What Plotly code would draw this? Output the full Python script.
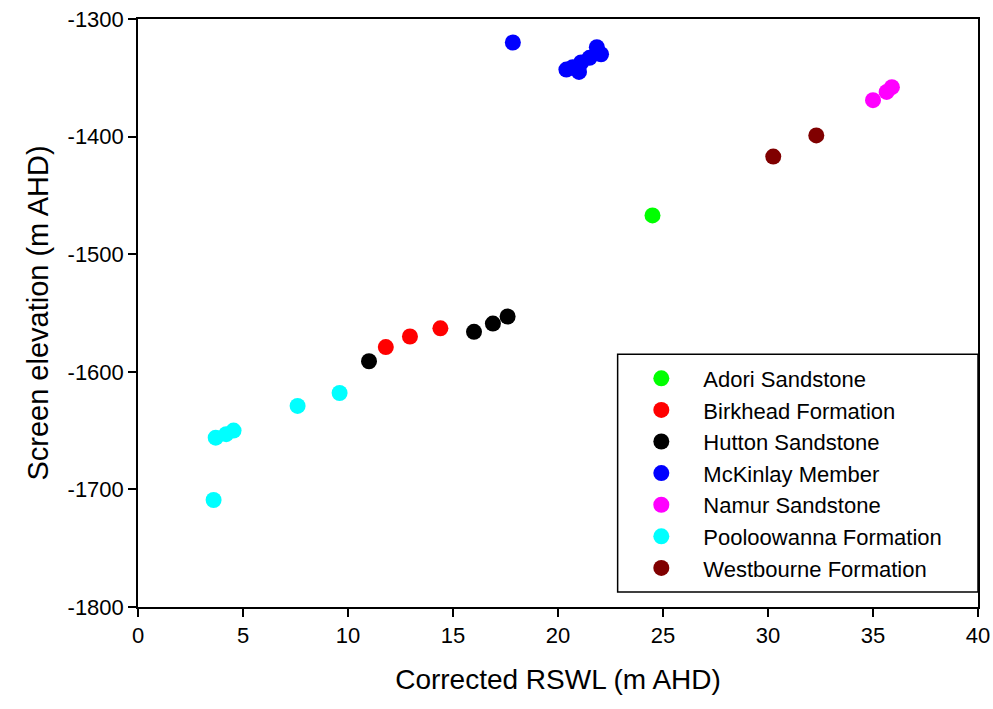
import plotly.graph_objects as go

# Data
adori_x = [24.5]
adori_y = [-1467]
birkhead_x = [11.8, 12.95, 14.4]
birkhead_y = [-1579, -1570, -1563]
hutton_x = [11.0, 16.0, 16.9, 17.6]
hutton_y = [-1591, -1566, -1559, -1553]
mckinlay_x = [17.85, 20.4, 20.7, 21.0, 21.1, 21.5, 21.85, 22.05]
mckinlay_y = [-1320, -1343, -1341, -1345, -1337, -1333, -1324, -1330]
namur_x = [35.0, 35.65, 35.9]
namur_y = [-1369, -1362, -1358]
pooloowanna_x = [3.6, 3.7, 4.2, 4.55, 7.6, 9.6]
pooloowanna_y = [-1709, -1656, -1653, -1650, -1629, -1618]
westbourne_x = [30.25, 32.3]
westbourne_y = [-1417, -1399]

series = [
    ("Adori Sandstone", adori_x, adori_y, "#00ff00"),
    ("Birkhead Formation", birkhead_x, birkhead_y, "#ff0000"),
    ("Hutton Sandstone", hutton_x, hutton_y, "#000000"),
    ("McKinlay Member", mckinlay_x, mckinlay_y, "#0000ff"),
    ("Namur Sandstone", namur_x, namur_y, "#ff00ff"),
    ("Pooloowanna Formation", pooloowanna_x, pooloowanna_y, "#00ffff"),
    ("Westbourne Formation", westbourne_x, westbourne_y, "#800000"),
]

x_ticks = [0, 5, 10, 15, 20, 25, 30, 35, 40]
y_ticks = [-1300, -1400, -1500, -1600, -1700, -1800]

fig = go.Figure()
for i, (name, xs, ys, col) in enumerate(series):
    fig.add_trace(go.Scatter(
        x=xs, y=ys, mode="markers", name=name, legendgroup=str(i),
        marker=dict(size=16, color=col, line=dict(width=0)),
    ))

# legend frame
fig.add_shape(type="rect", xref="paper", yref="paper",
              x0=0.571, x1=1.0, y0=0.0255, y1=0.43,
              line=dict(color="black", width=1.5), fillcolor="white", layer="below")

font = "Arial, Liberation Sans, sans-serif"
fig.update_layout(
    width=993, height=709,
    margin=dict(l=138, r=15, t=19, b=102),
    paper_bgcolor="white", plot_bgcolor="white",
    font=dict(family=font, size=22, color="black"),
    showlegend=True,
    legend=dict(
        x=0.573, y=0.227, xanchor="left", yanchor="middle",
        borderwidth=0, bgcolor="rgba(0,0,0,0)",
        font=dict(size=22, family=font),
        tracegroupgap=0, itemwidth=74,
    ),
    xaxis=dict(
        range=[0, 40], tickvals=x_ticks, ticktext=[str(v) for v in x_ticks],
        showgrid=False, zeroline=False, automargin=False,
        showline=True, linecolor="black", linewidth=1.5, mirror=True,
        ticks="outside", ticklen=8, tickcolor="black", tickwidth=1.5,
        tickfont=dict(size=22), title=dict(text="Corrected RSWL (m AHD)", font=dict(size=28), standoff=22),
    ),
    yaxis=dict(
        range=[-1800, -1300], tickvals=y_ticks, ticktext=[str(v) for v in y_ticks],
        showgrid=False, zeroline=False, automargin=False,
        showline=True, linecolor="black", linewidth=1.5, mirror=True,
        ticks="outside", ticklen=8, tickcolor="black", tickwidth=1.5,
        tickfont=dict(size=22), title=dict(text="Screen elevation (m AHD)", font=dict(size=29), standoff=10),
    ),
)

fig.write_html("out.html")
